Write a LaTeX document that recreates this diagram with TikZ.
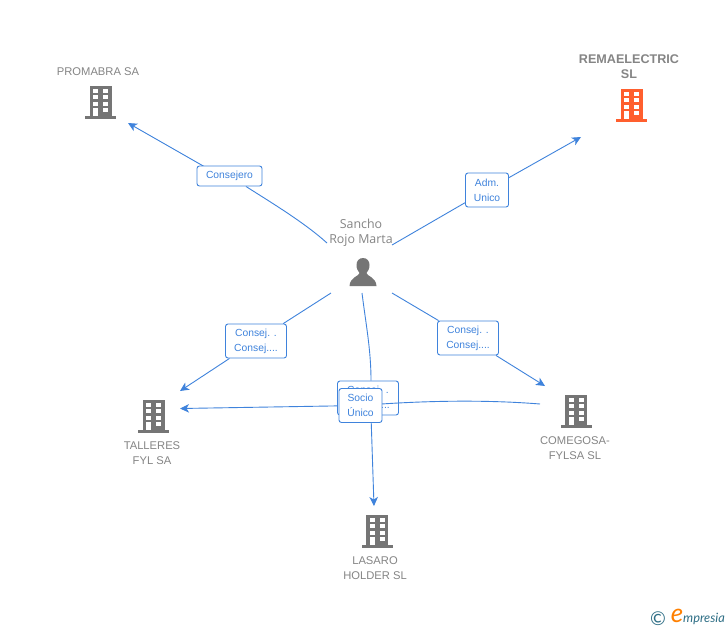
\documentclass[tikz,border=0pt]{standalone}
\usepackage{fontspec}
\setmainfont{Liberation Sans}
\newfontfamily\personfont{Open Sans}
\newfontfamily\logofont{Lato}
\usetikzlibrary{arrows.meta, calc, backgrounds}
\definecolor{linkblue}{HTML}{3F83DC}
\definecolor{textgray}{HTML}{858585}
\definecolor{icongray}{HTML}{757575}
\definecolor{iconorange}{HTML}{FF5F2E}
\definecolor{logoteal}{HTML}{2F6F86}
\tikzset{
    x=1pt, y=-1pt,
    link/.style={draw=linkblue, line width=0.9pt},
    linkarrow/.style={link, -{Stealth[length=9pt,width=8.5pt,inset=2.5pt]}},
    linkbox/.style={draw=linkblue, line width=0.9pt, fill=white, rounded corners=2.5pt, align=center,
        text=linkblue, font=\fontsize{10.3}{15}\selectfont, inner sep=0pt, minimum width=61pt, minimum height=34pt},
    company/.style={text=textgray, align=center, font=\fontsize{11.2}{15}\selectfont, inner sep=0pt},
    building/.pic={
        \fill[pic actions] (-15.5,0) rectangle (15.5,-3);
        \fill[pic actions] (-11,-2) rectangle (11,-33);
        \foreach \row in {-30.5,-24,-17.5} {
            \fill[white] (-7.5,\row) rectangle (-2.5,\row+4);
            \fill[white] (2.5,\row) rectangle (7.5,\row+4);
        }
        \fill[white] (2.5,-11) rectangle (7.5,-7);
        \fill[white] (-7.5,-11) rectangle (-2.5,-3);
    },
}

\begin{document}
\begin{tikzpicture}
    \useasboundingbox (0,0) rectangle (728,630);
    \begin{scope}[on background layer]
        \fill[white] (0,0) rectangle (728,630);
    \end{scope}

    % companies
    \pic[fill=icongray] at (100.5,119) {building};
    \pic[fill=iconorange] at (631.5,122) {building};
    \pic[fill=icongray] at (153.5,433) {building};
    \pic[fill=icongray] at (576,428) {building};
    \pic[fill=icongray] at (377,548) {building};

    \node[company] (promabra) at (98,71.5) {PROMABRA SA};
    \node[company, font=\fontsize{12.6}{15}\selectfont\bfseries] (remaelectric) at (629,66.5) {REMAELECTRIC\\SL};
    \node[company] (talleres) at (152,453) {TALLERES\\FYL SA};
    \node[company] (comegosa) at (575,448) {COMEGOSA-\\FYLSA SL};
    \node[company] (lasaro) at (375,568) {LASARO\\HOLDER SL};

    % person
    \node[text=textgray, align=center, inner sep=0pt, font=\personfont\fontsize{12.4}{15}\selectfont] (sancho) at (361,233) {Sancho\\Rojo Marta};
    \fill[icongray] (363,258) .. controls (359,258) and (356.5,261) .. (356.5,265)
        .. controls (356.5,269) and (358,271) .. (359.5,273)
        .. controls (359.5,276) and (350,277) .. (349.5,286) -- (376.5,286)
        .. controls (376,277) and (366.5,276) .. (366.5,273)
        .. controls (368,271) and (369.5,269) .. (369.5,265)
        .. controls (369.5,261) and (367,258) .. (363,258) -- cycle;

    % ends of the connectors
    \coordinate (promabraend) at (128,123);
    \coordinate (remaend) at (581,137);
    \coordinate (talleresend) at (180,391);
    \coordinate (comegosaend) at (545,386);
    \coordinate (lasaroend) at (374,506);
    \coordinate (startupleft) at (327,243);
    \coordinate (startupright) at (392,245);
    \coordinate (startleft) at (331,293);
    \coordinate (startmid) at (362,293);
    \coordinate (startright) at (392,293);
    \coordinate (fylstart) at (540,404);
    \coordinate (fylend) at (180,408.5);
    \coordinate (sociomid) at (360.5,405.5);

    % relation labels
    \node[linkbox, minimum width=65pt, minimum height=20pt] (consejero) at (229.5,176) {Consejero};
    \node[linkbox, minimum width=43pt] (admunico) at (487,190) {Adm.\\Unico};
    \node[linkbox] (consejtall) at (256,341) {Consej. .\\Consej....};
    \node[linkbox] (consejcome) at (468,338) {Consej. .\\Consej....};
    \node[linkbox] (consejlasaro) at (368,398) {Consej. .\\Consej....};
    \draw[link] (fylstart) .. controls (490,400) and (430,400) .. (sociomid);
    \node[linkbox, minimum width=43pt] (sociounico) at (sociomid) {Socio\\Único};

    \begin{scope}[on background layer]
        \draw[link] (startupleft) .. controls (305,223) and (272,203) .. (consejero);
        \draw[linkarrow] ($(consejero)+(0,5)$) -- (promabraend);
        \draw[link] (startupright) -- (admunico);
        \draw[linkarrow] (admunico) -- (remaend);
        \draw[link] (startleft) -- (consejtall);
        \draw[linkarrow] (consejtall) -- (talleresend);
        \draw[link] (startright) -- (consejcome);
        \draw[linkarrow] (consejcome) -- (comegosaend);
        \draw[link] (startmid) .. controls (366,325) and (371,350) .. (consejlasaro.north -| 371,0);
        \draw[linkarrow] (consejlasaro.south -| 371,0) -- (lasaroend);
        \draw[linkarrow] (sociounico) -- (fylend);
    \end{scope}

    % logo
    \node[text=logoteal, inner sep=0pt, font=\logofont\fontsize{19}{19}\selectfont] (copyr) at (658,619) {©};
    \node[text=orange, inner sep=0pt, font=\logofont\itshape\fontsize{26}{26}\selectfont] (logoe) at (677,616) {e};
    \node[text=logoteal, inner sep=0pt, anchor=west, font=\logofont\itshape\fontsize{12.8}{12.8}\selectfont] (logotext) at (683,619) {mpresia};
\end{tikzpicture}
\end{document}
